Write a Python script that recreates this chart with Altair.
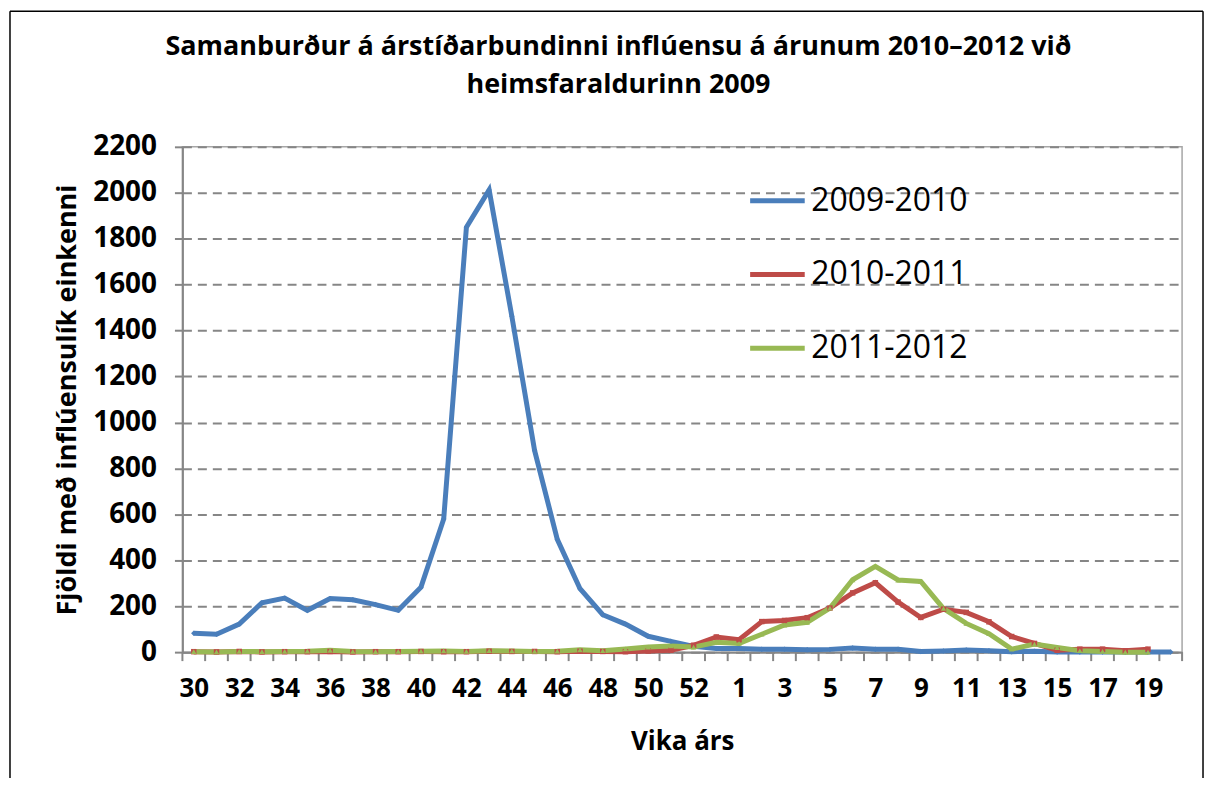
import altair as alt
import pandas as pd

# ---- data ----
weeks = list(range(30, 54)) + list(range(1, 21))

s2009 = [82, 78, 122, 215, 235, 182, 233, 228, 207, 182, 283, 580, 1850, 2012,
         1462, 878, 491, 276, 163, 122, 69, 47, 25, 16, 16, 13, 13, 10, 12, 18,
         13, 13, 3, 5, 9, 6, 2, 4, 1, 1, 1, 1, 1, 1]
s2010 = [2, 1, 3, 1, 2, 2, 3, 1, 2, 2, 3, 2, 2, 4, 3, 3, 2, 4, 3, 2, 5, 8, 30,
         66, 54, 133, 138, 150, 192, 258, 302, 218, 151, 187, 173, 132, 68, 38,
         8, 13, 13, 6, 13, None]
s2011 = [2, 1, 3, 2, 3, 4, 8, 3, 2, 3, 4, 5, 3, 6, 5, 3, 4, 10, 6, 14, 22, 27,
         22, 43, 38, 78, 118, 130, 192, 315, 373, 314, 308, 190, 125, 80, 13,
         35, 20, 6, 3, 0, 0, None]

series_names = ["2009-2010", "2010-2011", "2011-2012"]
series_vals = [s2009, s2010, s2011]
colors = ["#4A7EBB", "#BE4B48", "#98B954"]
shapes = ["diamond", "square", "triangle-up"]

title_lines = ["Samanburður á árstíðarbundinni inflúensu á árunum 2010–2012 við",
               "heimsfaraldurinn 2009"]
y_title = "Fjöldi með inflúensulík einkenni"
x_title = "Vika árs"

rows = []
for name, vals in zip(series_names, series_vals):
    for i, (w, v) in enumerate(zip(weeks, vals)):
        if v is not None:
            rows.append({"series": name, "idx": i, "week": w, "value": v})
df = pd.DataFrame(rows)

bounds = pd.DataFrame({"b": [i - 0.5 for i in range(len(weeks) + 1)]})
one = pd.DataFrame({"a": [0]})

W, H = 1003, 507
FONT = "Open Sans"
GRAY = "#868686"

xscale = alt.Scale(domain=[-0.5, len(weeks) - 0.5], nice=False, zero=False)
yscale = alt.Scale(domain=[0, 2200], nice=False)
label_expr = "[" + ",".join(str(w) for w in weeks) + "][datum.value]"

x_enc = alt.X(
    "idx:Q", scale=xscale,
    axis=alt.Axis(
        values=list(range(0, len(weeks), 2)), labelExpr=label_expr,
        tickSize=0, grid=False, domainColor=GRAY, domainWidth=2,
        labelFont=FONT, labelFontWeight="bold", labelFontSize=26,
        labelColor="#000000", labelPadding=24, labelFlush=False,
        title=x_title, titleFont=FONT, titleFontWeight="bold",
        titleFontSize=26, titleColor="#000000", titleY=90,
        titleBaseline="middle",
    ),
)
y_enc = alt.Y(
    "value:Q", scale=yscale,
    axis=alt.Axis(
        values=list(range(0, 2201, 200)), format="d", grid=True, gridColor=GRAY,
        gridDash=[9, 6], gridWidth=2, tickSize=8, tickColor=GRAY, tickWidth=2,
        domainColor=GRAY, domainWidth=2,
        labelFont=FONT, labelFontWeight="bold", labelFontSize=28,
        labelColor="#000000", labelPadding=18,
        title=y_title, titleFont=FONT, titleFontWeight="bold",
        titleFontSize=27, titleColor="#000000", titleAngle=270,
        titleX=-115, titleY=H / 2, titleAlign="center",
        titleBaseline="middle",
    ),
)

color_enc = alt.Color(
    "series:N",
    scale=alt.Scale(domain=series_names, range=colors),
    legend=alt.Legend(
        title=None, orient="none", legendX=567, legendY=24,
        symbolType="stroke", symbolSize=3000, symbolStrokeWidth=5,
        labelFont=FONT, labelFontSize=32, labelColor="#000000",
        labelOffset=4, rowPadding=28,
    ),
)

lines = alt.Chart(df).mark_line(strokeWidth=5).encode(
    x=x_enc, y=y_enc, color=color_enc, detail="series:N",
    order="idx:Q",
)

point_layers = []
for name, col, shp in zip(series_names, colors, shapes):
    point_layers.append(
        alt.Chart(df).transform_filter(alt.datum.series == name)
        .mark_point(filled=True, size=30, opacity=1, shape=shp, color=col)
        .encode(x=alt.X("idx:Q", scale=xscale), y=alt.Y("value:Q", scale=yscale))
    )

ticks = alt.Chart(bounds).mark_rule(color=GRAY, strokeWidth=2).encode(
    x=alt.X("b:Q", scale=xscale),
    y=alt.value(H), y2=alt.value(H + 9),
)
frame_left = alt.Chart(one).mark_rule(color="#000000", strokeWidth=1.5).encode(
    x=alt.value(-173), y=alt.value(-136), y2=alt.value(640))
frame_top = alt.Chart(one).mark_rule(color="#000000", strokeWidth=1.5).encode(
    x=alt.value(-173), x2=alt.value(1024), y=alt.value(-136))
frame_right = alt.Chart(one).mark_rule(color="#000000", strokeWidth=1.5).encode(
    x=alt.value(1024), y=alt.value(-136), y2=alt.value(640))

chart = alt.layer(ticks, lines, *point_layers, frame_left, frame_top, frame_right).properties(
    width=W, height=H,
    autosize=alt.AutoSizeParams(type="none"),
    padding={"left": 175, "top": 138, "right": 25, "bottom": 125},
    title=alt.TitleParams(
        text=title_lines, font=FONT, fontWeight="bold", fontSize=27,
        color="#000000", anchor="middle", frame="group", dx=-64,
        offset=-89, lineHeight=38,
    ),
    background="#ffffff",
).configure_view(stroke="#a6a6a6", strokeWidth=1.5)

chart.save("out.html", embed_options={"renderer": "svg", "actions": False})
